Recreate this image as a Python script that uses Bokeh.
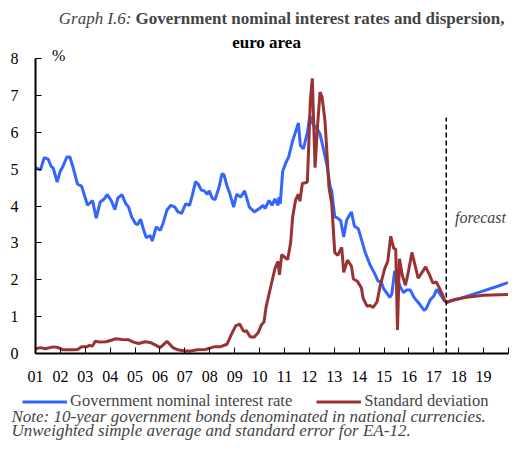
from bokeh.plotting import figure
from bokeh.models import (Range1d, FixedTicker, Label, Legend, LegendItem, LinearAxis)
from bokeh.layouts import column
from bokeh.embed import file_html
from bokeh.resources import INLINE

# ---------------- data (decimal years) ----------------
rate_years = [2001.00, 2001.20, 2001.35, 2001.51, 2001.63, 2001.71, 2001.87, 2001.99, 2002.10, 2002.26,
              2002.38, 2002.50, 2002.69, 2002.85, 2002.97, 2003.09, 2003.29, 2003.44, 2003.60, 2003.76,
              2003.88, 2004.04, 2004.19, 2004.31, 2004.47, 2004.63, 2004.74, 2004.86, 2005.02, 2005.10,
              2005.22, 2005.34, 2005.45, 2005.61, 2005.69, 2005.85, 2006.01, 2006.12, 2006.28, 2006.44,
              2006.60, 2006.72, 2006.87, 2007.03, 2007.19, 2007.31, 2007.43, 2007.54, 2007.66, 2007.78,
              2007.90, 2007.98, 2008.10, 2008.21, 2008.37, 2008.49, 2008.57, 2008.69, 2008.80, 2008.96,
              2009.08, 2009.24, 2009.40, 2009.59, 2009.79, 2009.99, 2010.14, 2010.22, 2010.38, 2010.50,
              2010.62, 2010.74, 2010.78, 2010.83, 2010.93, 2011.05, 2011.17, 2011.33, 2011.48, 2011.56,
              2011.64, 2011.76, 2011.92, 2012.02, 2012.16, 2012.31, 2012.43, 2012.55, 2012.71, 2012.83,
              2012.90, 2013.02, 2013.14, 2013.26, 2013.38, 2013.50, 2013.61, 2013.69, 2013.81, 2013.97,
              2014.09, 2014.24, 2014.44, 2014.60, 2014.76, 2014.88, 2014.99, 2015.15, 2015.23, 2015.31,
              2015.43, 2015.51, 2015.66, 2015.78, 2015.90, 2016.06, 2016.18, 2016.29, 2016.45, 2016.61,
              2016.69, 2016.85, 2017.00, 2017.12, 2017.24, 2017.40, 2017.52,
              2018.00, 2018.50, 2019.00, 2019.50, 2019.98]
rate_values = [5.04, 4.98, 5.31, 5.27, 5.07, 5.03, 4.65, 4.94, 5.07, 5.33,
               5.33, 5.07, 4.59, 4.54, 4.28, 4.02, 4.15, 3.67, 4.11, 4.19,
               4.31, 4.15, 3.90, 4.22, 4.31, 4.06, 3.97, 3.71, 3.52, 3.49,
               3.64, 3.36, 3.14, 3.20, 3.05, 3.43, 3.34, 3.52, 3.89, 4.02,
               3.97, 3.84, 3.80, 4.06, 4.02, 4.32, 4.66, 4.59, 4.43, 4.41,
               4.32, 4.41, 4.21, 4.17, 4.50, 4.87, 4.85, 4.55, 4.35, 3.97,
               4.32, 4.24, 4.41, 3.97, 3.84, 3.93, 4.02, 3.93, 4.15, 4.02,
               4.19, 4.02, 4.24, 4.06, 4.94, 5.16, 5.33, 5.77, 6.08, 6.25,
               5.64, 5.55, 5.99, 6.45, 6.20, 6.10, 5.95, 5.60, 5.10, 4.55,
               4.40, 3.71, 3.67, 3.60, 3.16, 3.62, 3.75, 3.84, 3.45, 3.38,
               3.10, 2.75, 2.40, 2.20, 1.96, 1.95, 1.75, 1.60, 1.52, 1.60,
               2.24, 2.04, 1.80, 1.65, 1.72, 1.72, 1.55, 1.45, 1.32, 1.17,
               1.21, 1.45, 1.56, 1.74, 1.62, 1.45, 1.39,
               1.48, 1.59, 1.70, 1.81, 1.92]

sd_years = [2001.00, 2001.20, 2001.39, 2001.71, 2001.91, 2002.10, 2002.50, 2002.69, 2002.85, 2003.05,
            2003.17, 2003.29, 2003.40, 2003.56, 2003.84, 2004.04, 2004.23, 2004.47, 2004.74, 2004.94,
            2005.14, 2005.41, 2005.65, 2006.01, 2006.28, 2006.52, 2006.72, 2006.99, 2007.23, 2007.50,
            2007.82, 2008.17, 2008.41, 2008.69, 2008.88, 2009.04, 2009.20, 2009.36, 2009.47, 2009.63,
            2009.79, 2009.95, 2010.07, 2010.18, 2010.26, 2010.38, 2010.50, 2010.62, 2010.74, 2010.80,
            2010.89, 2011.01, 2011.13, 2011.25, 2011.33, 2011.45, 2011.56, 2011.62, 2011.72, 2011.84,
            2011.92, 2011.98, 2012.04, 2012.12, 2012.23, 2012.33, 2012.43, 2012.51, 2012.63, 2012.79,
            2012.90, 2013.02, 2013.14, 2013.30, 2013.38, 2013.53, 2013.69, 2013.77, 2013.93, 2014.09,
            2014.16, 2014.32, 2014.44, 2014.56, 2014.72, 2014.84, 2015.03, 2015.15, 2015.27, 2015.39,
            2015.47, 2015.54, 2015.62, 2015.74, 2015.86, 2015.98, 2016.12, 2016.23, 2016.37, 2016.51,
            2016.67, 2016.83, 2016.96, 2017.10, 2017.22, 2017.34, 2017.44, 2017.52,
            2017.75, 2018.25, 2019.00, 2019.98]
sd_values = [0.13, 0.16, 0.13, 0.18, 0.16, 0.10, 0.10, 0.11, 0.18, 0.18,
             0.22, 0.20, 0.33, 0.31, 0.32, 0.36, 0.40, 0.38, 0.37, 0.31,
             0.27, 0.32, 0.29, 0.16, 0.33, 0.16, 0.10, 0.07, 0.07, 0.10,
             0.11, 0.18, 0.18, 0.25, 0.53, 0.75, 0.80, 0.60, 0.62, 0.45,
             0.45, 0.57, 0.77, 0.86, 1.25, 1.61, 1.96, 2.31, 2.50, 2.13,
             2.68, 2.61, 2.55, 3.01, 3.71, 4.17, 4.32, 4.13, 4.61, 4.63,
             4.65, 5.72, 6.87, 7.46, 5.04, 6.17, 7.09, 6.96, 6.30, 4.50,
             4.06, 2.74, 2.66, 2.88, 2.20, 2.53, 2.37, 2.02, 1.96, 1.78,
             1.50, 1.28, 1.30, 1.25, 1.40, 1.82, 2.31, 2.50, 3.18, 2.85,
             2.83, 0.64, 2.57, 2.10, 1.85, 2.22, 2.74, 2.44, 2.04, 2.18,
             2.35, 2.13, 1.91, 1.94, 1.78, 1.61, 1.43, 1.39,
             1.45, 1.52, 1.58, 1.60]

forecast_start = 2017.5
forecast_line_top = 6.4

year_ticks = list(range(2001, 2021))
year_labels = ["01", "02", "03", "04", "05", "06", "07", "08", "09", "10",
               "11", "12", "13", "14", "15", "16", "17", "18", "19", ""]
y_ticks = [0, 1, 2, 3, 4, 5, 6, 7, 8]

series_names = ["Government nominal interest rate", "Standard deviation"]
title_prefix = "Graph I.6:"
title_line1 = "Government nominal interest rates and dispersion,"
title_line2 = "euro area"
note_line1 = "Note: 10-year government bonds denominated in national currencies."
note_line2 = "Unweighted simple average and standard error for EA-12."

BLUE = "#3366FF"
RED = "#993333"
FONT = "Liberation Serif"
W = 510
NAN = float("nan")


def blank_fig(h):
    f = figure(width=W, height=h, output_backend="svg", toolbar_location=None,
               x_range=Range1d(0, W), y_range=Range1d(0, h), min_border=0,
               x_axis_type=None, y_axis_type=None, frame_align=False)
    f.outline_line_color = None
    f.grid.visible = False
    f.background_fill_color = "white"
    f.border_fill_color = "white"
    return f


def text_axis(pos, label, size, style, standoff):
    """An axis without line or ticks, used only to carry one text above the frame."""
    return LinearAxis(ticker=FixedTicker(ticks=[pos], minor_ticks=[]),
                      major_label_overrides={pos: label},
                      axis_line_color=None, major_tick_line_color=None, minor_tick_line_color=None,
                      major_tick_in=0, major_tick_out=0, major_label_standoff=standoff,
                      major_label_text_font=FONT, major_label_text_font_size=size,
                      major_label_text_font_style=style, major_label_text_color="black")


# ---------------- title (first line) ----------------
tf = blank_fig(29)
tf.add_layout(Label(x=131, y=11, text=title_prefix, text_font=FONT, text_font_style="italic",
                    text_font_size="17px", text_baseline="middle", text_align="right"))
tf.add_layout(Label(x=135, y=11, text=title_line1, text_font=FONT, text_font_style="bold",
                    text_font_size="17px", text_baseline="middle", text_align="left"))

# ---------------- main chart ----------------
p = figure(width=W, height=361, output_backend="svg", toolbar_location=None,
           x_range=Range1d(2001, 2020), y_range=Range1d(0, 8), frame_align=False,
           min_border_left=35, min_border_right=2, min_border_top=28, min_border_bottom=37)
p.outline_line_color = None
p.xgrid.visible = False
p.ygrid.visible = False
p.background_fill_color = "white"
p.border_fill_color = "white"

xa = p.xaxis[0]
xa.ticker = FixedTicker(ticks=year_ticks, minor_ticks=[])
xa.major_label_overrides = {y: l for y, l in zip(year_ticks, year_labels)}
xa.major_tick_in = 6
xa.major_tick_out = 0
xa.minor_tick_line_color = None
xa.axis_line_width = 2
xa.major_tick_line_width = 1
xa.major_label_text_font = FONT
xa.major_label_text_font_size = "16px"
xa.major_label_text_color = "black"
xa.major_label_standoff = 17
xa.axis_line_color = "black"

ya = p.yaxis[0]
ya.ticker = FixedTicker(ticks=y_ticks, minor_ticks=[])
ya.major_tick_in = 6
ya.major_tick_out = 0
ya.minor_tick_line_color = None
ya.axis_line_width = 2
ya.major_tick_line_width = 1
ya.major_label_text_font = FONT
ya.major_label_text_font_size = "16px"
ya.major_label_text_color = "black"
ya.major_label_standoff = 17
ya.axis_line_color = "black"

# "%" unit (closest to the frame) and the second title line above it
p.add_layout(text_axis(2001.93, "%", "16px", "normal", -5), "above")
p.add_layout(text_axis(2010.28, title_line2, "17px", "bold", -8), "above")

r_rate = p.line(rate_years, rate_values, line_color=BLUE, line_width=3)
r_sd = p.line(sd_years, sd_values, line_color=RED, line_width=3)

p.segment(x0=[forecast_start], y0=[0], x1=[forecast_start], y1=[forecast_line_top],
          line_color="black", line_width=1.5, line_dash="5 3")

p.add_layout(Label(x=2017.85, y=3.68, text="forecast", text_font=FONT, text_font_style="italic",
                   text_font_size="16px", text_baseline="middle", text_align="left"))

# ---------------- legend + note ----------------
bf = blank_fig(50)
lr1 = bf.line(x=[NAN], y=[NAN], line_color=BLUE, line_width=3)
lr2 = bf.line(x=[NAN], y=[NAN], line_color=RED, line_width=3)
legend = Legend(items=[LegendItem(label=series_names[0], renderers=[lr1]),
                       LegendItem(label=series_names[1], renderers=[lr2])],
                location=(22, 29), orientation="horizontal",
                glyph_width=45, glyph_height=17, label_standoff=3, spacing=24,
                padding=0, margin=0, border_line_color=None, background_fill_alpha=0,
                label_text_font=FONT, label_text_font_size="16.5px", label_height=17)
bf.add_layout(legend, "center")
bf.add_layout(Label(x=11, y=24, text=note_line1, text_font=FONT, text_font_style="italic",
                    text_font_size="17px", text_baseline="middle", text_align="left"))
bf.add_layout(Label(x=11, y=10, text=note_line2, text_font=FONT, text_font_style="italic",
                    text_font_size="17px", text_baseline="middle", text_align="left"))

layout = column(tf, p, bf, spacing=0)
open("out.html", "w").write(file_html(layout, INLINE))
